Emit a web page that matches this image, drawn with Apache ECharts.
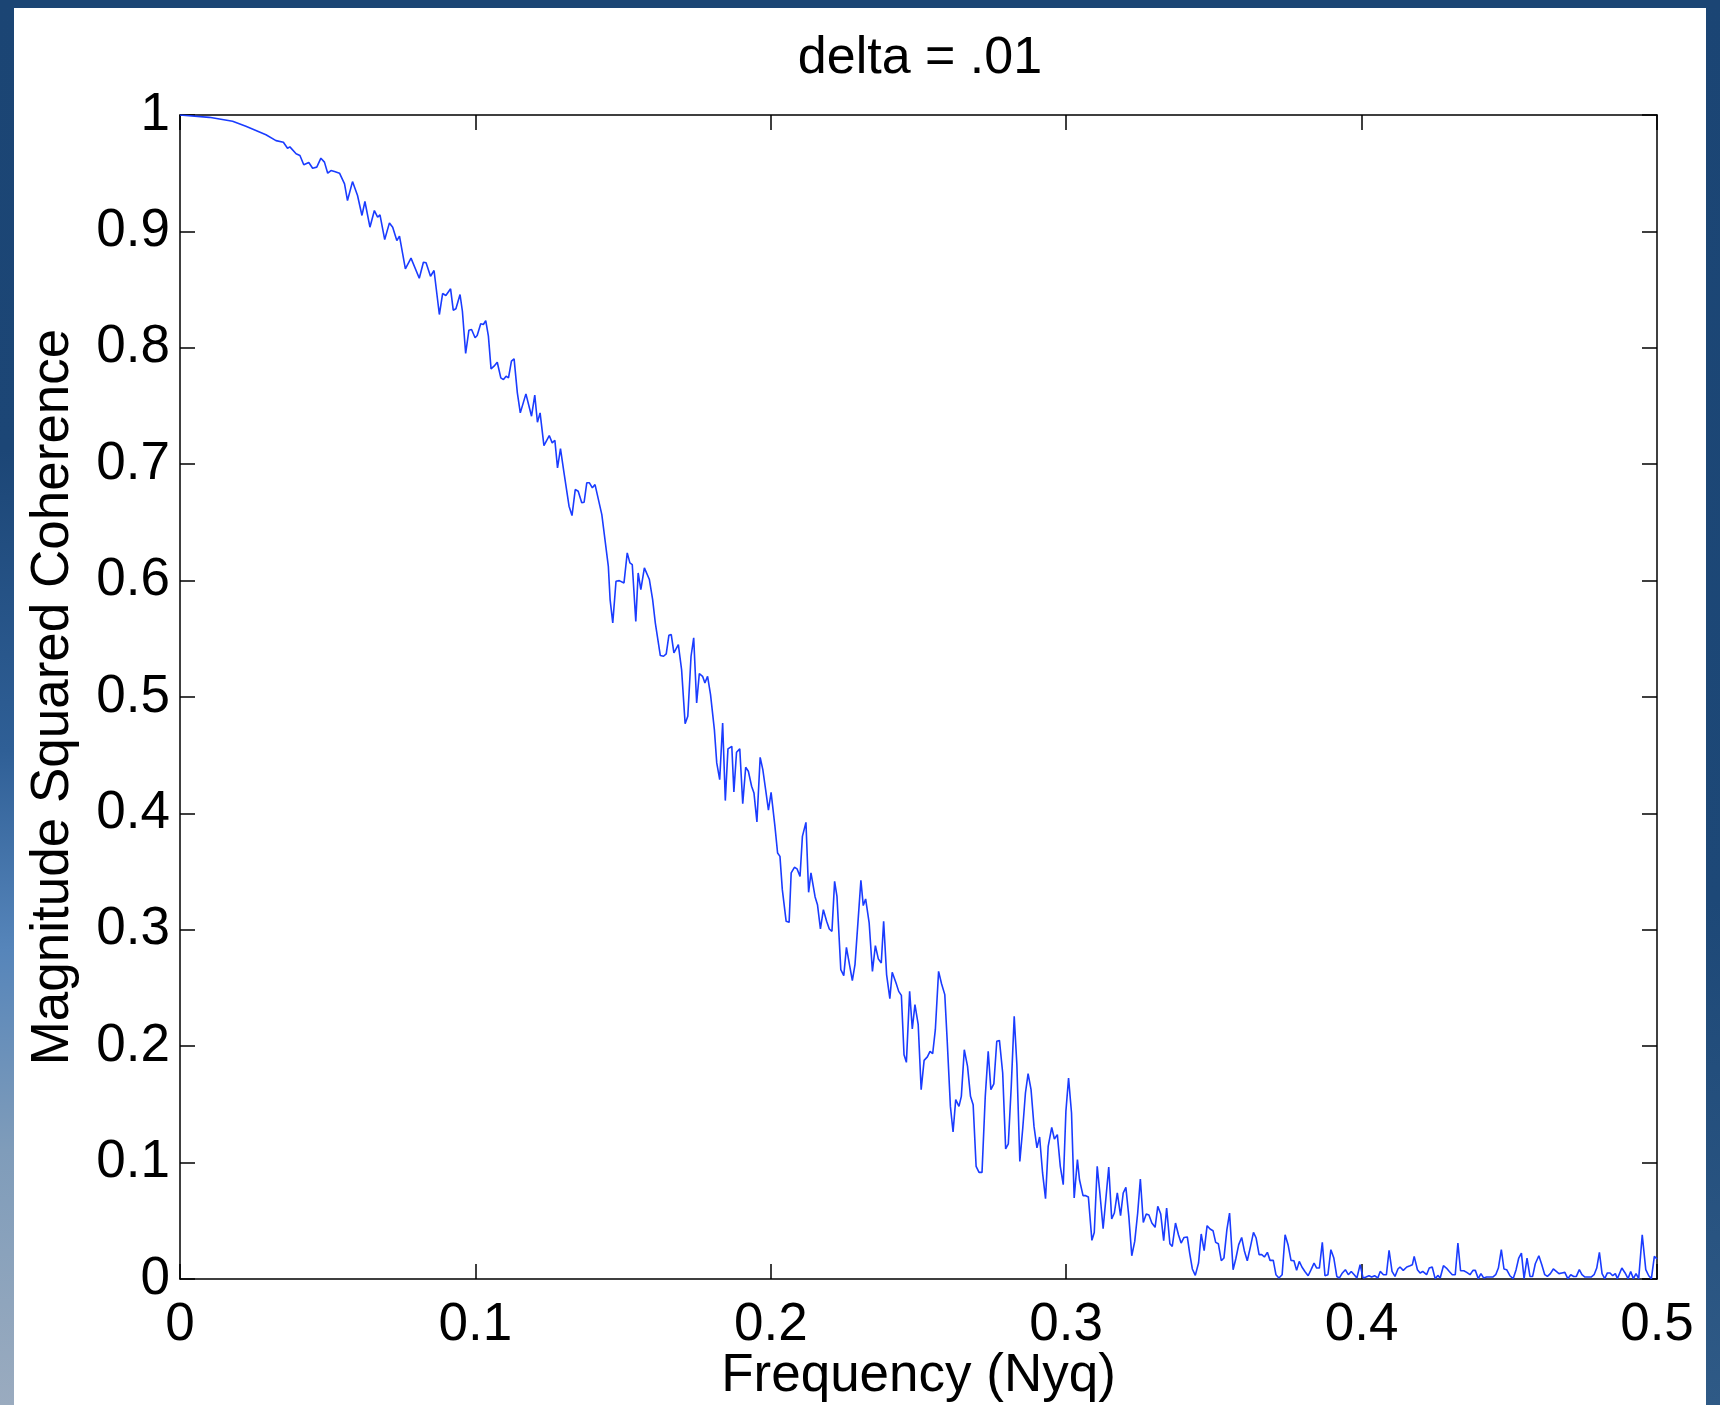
<!DOCTYPE html>
<html>
<head>
<meta charset="utf-8">
<script src="https://cdn.jsdelivr.net/npm/echarts@6/dist/echarts.min.js"></script>
<style>
html,body{margin:0;padding:0;width:1720px;height:1405px;overflow:hidden;}
body{background:linear-gradient(to bottom,#1b4574 0px,#1c4676 450px,#2f5f96 750px,#5685ba 950px,#7f9cba 1150px,#9aabbf 1405px);}
#rightstrip{position:absolute;left:1706px;top:0;width:14px;height:1405px;background:linear-gradient(to bottom,#1b4574 0px,#1d4877 900px,#2f5a86 1405px);}
#topstrip{position:absolute;left:0;top:0;width:1720px;height:8px;background:#1b4574;}
#paper{position:absolute;left:14px;top:8px;width:1692px;height:1397px;background:#ffffff;}
#chart{position:absolute;left:0;top:0;width:1720px;height:1405px;}
</style>
</head>
<body>
<div id="topstrip"></div>
<div id="rightstrip"></div>
<div id="paper"></div>
<div id="chart"></div>
<script>
var titleText = 'delta = .01';
var xName = 'Frequency (Nyq)';
var yName = 'Magnitude Squared Coherence';
var xTicks = [0, 0.1, 0.2, 0.3, 0.4, 0.5];
var yTicks = [0, 0.1, 0.2, 0.3, 0.4, 0.5, 0.6, 0.7, 0.8, 0.9, 1];

var freq = [
0,0.0099,0.0178,0.0223,0.0291,0.0325,0.035,0.0364,0.0372,0.0393,0.0406,0.0419,0.0436,0.0449,0.0463,0.0477,0.0489,0.05,0.0511,0.0523,0.054,0.0557,0.0567,0.0584,0.0601,0.0616,0.0626,0.0643,0.0658,0.0669,0.0677,0.0693,0.0709,0.072,0.0734,0.0743,0.0763,0.0782,0.081,
0.0824,0.0833,0.0848,0.086,0.0878,0.0889,0.09,0.0916,0.0925,0.0934,0.0948,0.0956,0.0967,0.0978,0.0987,0.0999,0.1006,0.1018,0.1027,0.1035,0.1044,0.1053,0.1063,0.1074,0.1086,0.1095,0.1104,0.1112,0.1122,0.1131,0.1142,0.1152,0.1171,0.119,0.1201,0.121,0.1219,0.1232,0.125,0.126,0.1269,0.1278,0.1288,0.13,0.1317,0.1327,0.1338,0.1348,0.136,0.1368,0.1377,0.1386,0.1396,0.1405,0.1428,0.145,0.1456,0.1465,0.1476,0.1487,0.1503,0.1514,0.1523,0.1531,0.1543,0.1551,0.156,0.1572,0.1589,0.16,
0.1609,0.1626,0.1637,0.1646,0.1655,0.1663,0.1672,0.1687,0.1698,0.171,0.1719,0.173,0.1739,0.1749,0.1758,0.1769,0.1777,0.1786,0.1796,0.1809,0.1817,0.1827,0.1837,0.1846,0.1855,0.1868,0.1875,0.1884,0.1895,0.1905,0.1915,0.1924,0.1935,0.1943,0.1953,0.1964,0.1973,0.1984,0.1992,0.2001,0.2014,0.2023,0.2031,0.2039,0.2052,
0.2062,0.2069,0.208,0.2089,0.2099,0.2107,0.2119,0.2128,0.2136,0.215,0.2158,0.2168,0.2178,0.2189,0.2198,0.2207,0.2216,0.2224,0.2237,0.2247,0.2256,0.2276,0.2285,0.2305,0.2313,0.2321,0.2333,0.2344,0.2354,0.2364,0.2374,0.2382,0.2392,0.2403,0.2411,0.2424,0.2433,0.2442,0.2451,0.2459,0.247,0.2479,0.2488,
0.2499,0.2509,0.2519,0.253,0.2539,0.2548,0.2557,0.2568,0.2578,0.2589,0.2597,0.2608,0.2617,0.2626,0.2637,0.2645,0.2655,0.2666,0.2676,0.2685,0.2695,0.2705,0.2715,0.2726,0.2736,0.2745,0.2755,0.2765,0.2774,0.2785,0.2795,0.2804,0.2814,0.2824,0.2833,0.2843,0.2853,0.2862,0.2871,0.2881,0.2891,0.2901,0.291,0.292,0.293,0.2939,0.2951,0.296,0.297,0.298,0.299,0.2999,0.3008,0.3018,0.3027,
0.3038,0.3045,0.3057,0.3066,0.3075,0.3087,0.3095,0.3105,0.3114,0.3125,0.3135,0.3144,0.3154,0.3163,0.3173,0.3184,0.3193,0.3202,0.3212,0.3222,0.3232,0.3242,0.3251,0.3261,0.3271,0.328,0.329,0.3301,0.331,0.332,0.333,0.334,0.3351,0.3359,0.337,0.338,0.3389,0.3399,0.341,0.3418,0.3427,0.3437,0.3448,0.3457,0.3467,0.3477,0.3487,0.3497,0.3506,0.3515,0.3525,0.3534,0.3544,0.3553,0.3565,0.3574,0.3584,0.3594,0.3603,0.3613,0.3624,0.3634,0.3643,0.3653,
0.3662,0.3671,0.3681,0.369,0.3701,0.371,0.372,0.3731,0.3741,0.3751,0.3761,0.3771,0.378,0.3789,0.3798,0.3808,0.3819,0.3829,0.3839,0.3848,0.3857,0.3867,0.3876,0.3886,0.3896,0.3906,0.3916,0.3925,0.3935,0.3945,0.3955,0.3965,0.3975,0.3984,0.3995,0.4005,0.4015,0.4025,0.4034,0.4044,0.4055,0.4063,0.4074,0.4084,0.4093,0.4103,0.4113,0.4123,
0.413,0.4141,0.4153,0.4164,0.4172,0.4178,0.4189,0.4198,0.4207,0.4212,0.422,0.4229,0.4239,0.4249,0.4258,0.4266,0.4277,0.4287,0.4297,0.4307,0.4317,0.4326,0.4335,0.4346,0.4356,0.4367,0.4377,0.4385,0.4395,0.4404,0.4413,0.4423,0.4434,0.4444,0.4454,0.4463,0.4473,0.4482,0.4491,0.4502,0.4513,0.4523,0.4532,0.4541,0.455,0.456,0.457,0.4579,0.4588,0.46,0.461,0.462,0.4629,0.4639,0.4649,0.4659,0.4668,0.4678,0.4688,0.4698,0.4708,0.4718,0.4727,0.4737,0.4746,0.4756,0.4767,0.4777,0.4787,0.4796,0.4805,0.4814,0.4823,0.4832,0.4841,0.485,0.4859,0.4866,0.4881,0.4892,0.4902,0.4911,0.492,0.4929,0.4938,0.495,0.4962,0.4972,0.4981,0.4991,0.5
];

var coherence = [
1.0,0.998,0.9947,0.9904,0.983,0.978,0.9766,0.9714,0.9726,0.9667,0.9652,0.9572,0.9592,0.9543,0.9552,0.9629,0.9595,0.95,0.9523,0.9514,0.95,0.9409,0.9265,0.9428,0.9308,0.9137,0.9257,0.9036,0.9179,0.9122,0.9142,0.893,0.9073,0.9036,0.8921,0.8959,0.8678,0.877,0.8598,
0.8735,0.873,0.8615,0.8664,0.8286,0.8466,0.8449,0.8507,0.8323,0.8335,0.8458,0.8314,0.7951,0.8151,0.8157,0.8086,0.8105,0.8206,0.82,0.8234,0.81,0.7819,0.7842,0.7876,0.7742,0.7727,0.7756,0.7742,0.7885,0.7905,0.7613,0.7441,0.7604,0.7412,0.7593,0.736,0.7441,0.716,0.7246,0.7183,0.7206,0.6969,0.7134,0.6926,0.6639,0.6559,0.6782,0.6768,0.6668,0.6673,0.684,0.684,0.6797,0.6825,0.6567,0.6123,0.5837,0.5637,0.5994,0.6,0.598,0.6238,0.6152,0.6138,0.565,0.6066,0.5923,0.6109,0.6009,0.5837,
0.5637,0.5356,0.535,0.537,0.553,0.5536,0.5379,0.545,0.5235,0.4771,0.4834,0.535,0.5508,0.4949,0.5201,0.5178,0.5121,0.5178,0.5021,0.472,0.4434,0.429,0.4777,0.411,0.4554,0.4576,0.4185,0.4525,0.4554,0.4084,0.4396,0.4362,0.4233,0.4176,0.3927,0.4482,0.4376,0.4176,0.4027,0.4181,0.3889,0.366,0.3631,0.3345,0.3073,
0.3064,0.3489,0.3537,0.3523,0.3459,0.3803,0.3923,0.3322,0.3489,0.3282,0.3216,0.3007,0.3173,0.3073,0.3007,0.2987,0.3416,0.3287,0.2658,0.2606,0.2849,0.2563,0.2701,0.3425,0.3208,0.3265,0.3059,0.2643,0.2864,0.275,0.2715,0.3073,0.2615,0.2409,0.2635,0.2543,0.2471,0.2437,0.1927,0.1861,0.2471,0.2148,0.2357,
0.2185,0.1627,0.1878,0.1908,0.1956,0.1936,0.2142,0.2643,0.2537,0.2443,0.2056,0.1483,0.1263,0.1541,0.1483,0.1569,0.197,0.1827,0.1569,0.1498,0.0968,0.0916,0.0916,0.1569,0.1956,0.1627,0.1676,0.2042,0.205,0.177,0.1117,0.116,0.1655,0.2256,0.1841,0.101,0.1297,0.1598,0.1764,0.1627,0.1311,0.1126,0.122,0.0911,0.069,0.1139,0.1303,0.1203,0.124,0.0968,0.081,0.144,0.1727,0.1426,0.0696,
0.1025,0.0853,0.0716,0.0716,0.0705,0.0332,0.04,0.0968,0.0739,0.0432,0.071,0.0962,0.0516,0.0567,0.0739,0.0544,0.0739,0.0787,0.0538,0.02,0.0323,0.0567,0.0859,0.0486,0.0558,0.055,0.0481,0.0444,0.0624,0.0558,0.0329,0.061,0.0303,0.028,0.0481,0.038,0.0309,0.0357,0.0361,0.0223,0.0086,0.0031,0.0137,0.0387,0.0243,0.0458,0.043,0.0415,0.0315,0.0303,0.0157,0.018,0.0424,0.0567,0.008,0.0172,0.0295,0.0357,0.0243,0.0157,0.028,0.04,0.0352,0.0209,
0.0209,0.0189,0.0229,0.016,0.016,0.0037,0.0009,0.0037,0.038,0.0295,0.016,0.0157,0.0074,0.0151,0.0103,0.0065,0.0028,0.008,0.0137,0.0094,0.0094,0.0315,0.0028,0.0037,0.0252,0.018,0.0022,0.0009,0.0052,0.008,0.0037,0.0065,0.0037,0.0009,0.0123,0.0009,0.0017,0.0028,0.0017,0.0028,0.0009,0.0065,0.0037,0.0037,0.0246,0.0065,0.0022,0.0086,
0.0103,0.0074,0.0103,0.0114,0.0123,0.0194,0.008,0.0052,0.0065,0.0052,0.0037,0.0094,0.0103,0.0003,0.0031,0.0009,0.0114,0.0094,0.0065,0.0037,0.0037,0.0309,0.0071,0.0071,0.0057,0.0037,0.0074,0.0074,0.0003,0.0046,0.0009,0.0017,0.0017,0.0017,0.0037,0.0094,0.0252,0.0086,0.008,0.0028,0.0003,0.008,0.018,0.0223,0.0003,0.018,0.0022,0.0022,0.0131,0.02,0.0123,0.0037,0.0022,0.0046,0.0086,0.0065,0.0046,0.0052,0.0057,0.0003,0.0037,0.0022,0.0022,0.008,0.0037,0.0017,0.0017,0.0017,0.0037,0.0094,0.0229,0.0046,0.0003,0.0052,0.0052,0.0028,0.0046,0.0003,0.0094,0.0052,0.0003,0.0065,0.0003,0.0046,0.0003,0.038,0.008,0.0028,0.0003,0.0194,0.0172
];

var seriesData = freq.map(function (f, i) { return [f, coherence[i]]; });

var FONT = '"Liberation Sans", Arial, Helvetica, sans-serif';
var AX = { color: '#000', width: 1.5 };

function fmt(v) { return String(Math.round(v * 10) / 10); }

var chart = echarts.init(document.getElementById('chart'), null, { renderer: 'canvas' });
chart.setOption({
  backgroundColor: 'transparent',
  animation: false,
  title: {
    text: titleText,
    left: 915,
    textAlign: 'center',
    top: 28,
    textStyle: { fontFamily: FONT, fontSize: 52, fontWeight: 'normal', color: '#000' }
  },
  grid: { left: 180, top: 115, right: 63, bottom: 126, containLabel: false, outerBoundsMode: 'none' },
  xAxis: [{
    type: 'value', min: xTicks[0], max: xTicks[xTicks.length - 1], interval: 0.1,
    position: 'bottom',
    name: xName, nameLocation: 'middle', nameGap: 71, nameMoveOverlap: false,
    nameTextStyle: { fontFamily: FONT, fontSize: 53, color: '#000' },
    axisLine: { show: true, onZero: false, lineStyle: AX },
    axisTick: { show: true, inside: true, length: 15, lineStyle: AX },
    axisLabel: { fontFamily: FONT, fontSize: 53, color: '#000', margin: 20, formatter: fmt },
    splitLine: { show: false }
  }, {
    type: 'value', min: xTicks[0], max: xTicks[xTicks.length - 1], interval: 0.1,
    position: 'top',
    axisLine: { show: true, onZero: false, lineStyle: AX },
    axisTick: { show: true, inside: true, length: 15, lineStyle: AX },
    axisLabel: { show: false },
    splitLine: { show: false }
  }],
  yAxis: [{
    type: 'value', min: yTicks[0], max: yTicks[yTicks.length - 1], interval: 0.1,
    position: 'left',
    name: yName, nameLocation: 'middle', nameGap: 100, nameMoveOverlap: false,
    nameTextStyle: { fontFamily: FONT, fontSize: 53, color: '#000' },
    axisLine: { show: true, onZero: false, lineStyle: AX },
    axisTick: { show: true, inside: true, length: 15, lineStyle: AX },
    axisLabel: { fontFamily: FONT, fontSize: 53, color: '#000', margin: 10, formatter: fmt },
    splitLine: { show: false }
  }, {
    type: 'value', min: yTicks[0], max: yTicks[yTicks.length - 1], interval: 0.1,
    position: 'right',
    axisLine: { show: true, onZero: false, lineStyle: AX },
    axisTick: { show: true, inside: true, length: 15, lineStyle: AX },
    axisLabel: { show: false },
    splitLine: { show: false }
  }],
  series: [{
    type: 'line',
    xAxisIndex: 0, yAxisIndex: 0,
    data: seriesData,
    showSymbol: false,
    symbol: 'none',
    lineStyle: { color: '#1a3cff', width: 1.6 },
    clip: true
  }]
});
</script>
</body>
</html>
